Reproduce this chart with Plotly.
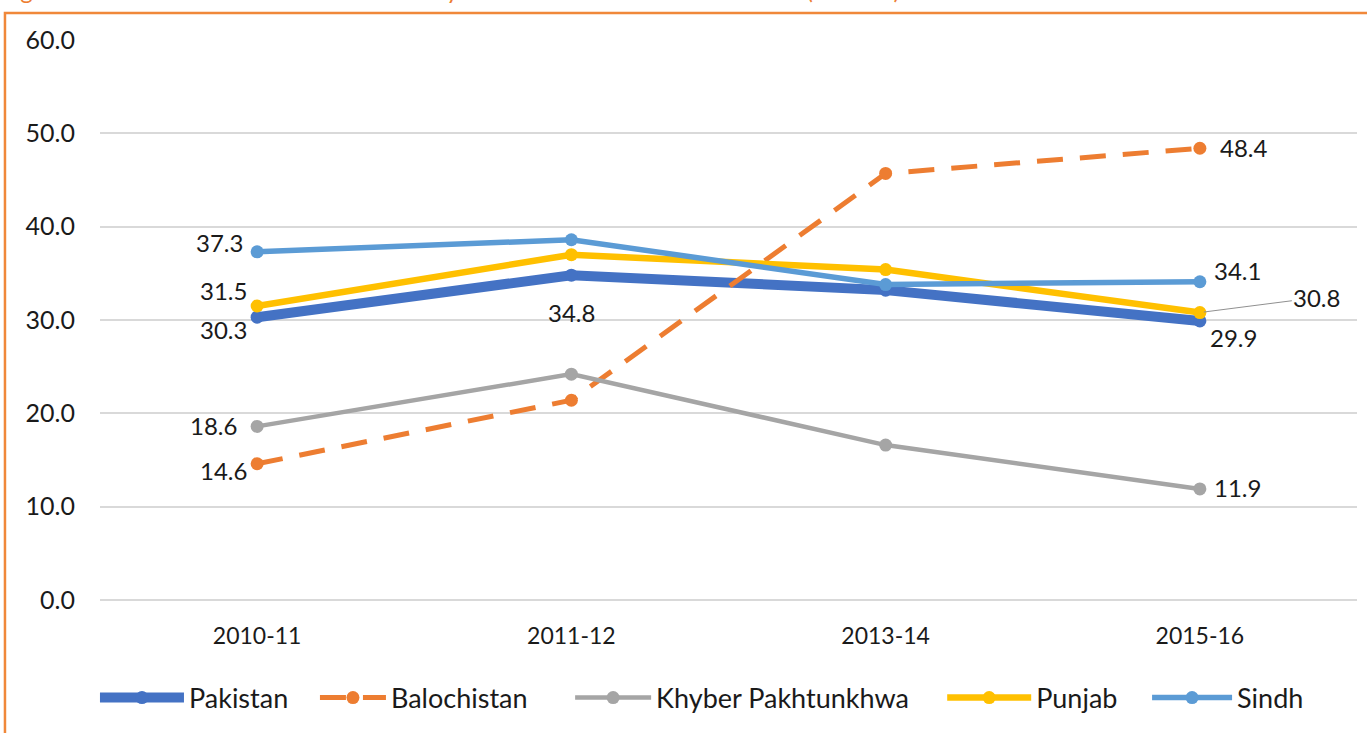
import plotly.graph_objects as go

years = ["2010-11", "2011-12", "2013-14", "2015-16"]
pakistan = [30.3, 34.8, 33.2, 29.9]
balochistan = [14.6, 21.4, 45.7, 48.4]
kp = [18.6, 24.2, 16.6, 11.9]
punjab = [31.5, 37.0, 35.4, 30.8]
sindh = [37.3, 38.6, 33.8, 34.1]
y_ticks = [0, 10, 20, 30, 40, 50, 60]

# name, values, colour, line width, dash, legend x (paper), legend symbol width
series = [
    ("Pakistan", pakistan, "#4472C4", 10, "solid", -0.004, 84),
    ("Balochistan", balochistan, "#ED7D31", 5, "26px,17px", 0.171, 66),
    ("Khyber Pakhtunkhwa", kp, "#A5A5A5", 4.5, "solid", 0.374, 76),
    ("Punjab", punjab, "#FFC000", 6.5, "solid", 0.670, 84),
    ("Sindh", sindh, "#5B9BD5", 5.5, "solid", 0.833, 80),
]

FONT = "Lato, Open Sans, sans-serif"
fig = go.Figure()
legend_layouts = {}
for k, (name, vals, color, w, dash, lx, iw) in enumerate(series):
    lname = "legend" if k == 0 else f"legend{k + 1}"
    fig.add_trace(go.Scatter(
        x=years, y=vals, name=name, mode="lines+markers",
        line=dict(color=color, width=w, dash=dash),
        marker=dict(size=13, color=color), legend=lname,
    ))
    legend_layouts[lname] = dict(orientation="h", x=lx, xanchor="left", y=-0.175,
                                 yanchor="middle", font=dict(family=FONT, size=27),
                                 itemwidth=iw, bgcolor="rgba(0,0,0,0)")

LBL = 24
# data labels: (series values, index, xshift, yshift, xanchor)
label_specs = [
    (pakistan, 0, -8, -12, "right"),
    (pakistan, 1, 0, -37, "center"),
    (pakistan, 3, 8, -17, "left"),
    (balochistan, 0, -8, -7, "right"),
    (balochistan, 3, 18, 1, "left"),
    (kp, 0, -18, 1, "right"),
    (kp, 3, 12, 1, "left"),
    (punjab, 0, -8, 16, "right"),
    (sindh, 0, -12, 9, "right"),
    (sindh, 3, 12, 11, "left"),
]
for vals, i, xs, ys, xa in label_specs:
    fig.add_annotation(x=years[i], y=vals[i], text=f"{vals[i]:.1f}",
                       showarrow=False, xshift=xs, yshift=ys, xanchor=xa,
                       font=dict(family=FONT, size=LBL, color="#1a1a1a"))
# Punjab last label with leader line
fig.add_annotation(x=years[3], y=punjab[3], text=f"{punjab[3]:.1f}",
                   showarrow=True, arrowhead=0, arrowwidth=1, arrowcolor="#909090",
                   ax=117, ay=-15, xanchor="center", standoff=4,
                   font=dict(family=FONT, size=LBL, color="#1a1a1a"))

# cut-off caption at very top and orange frame
fig.add_annotation(xref="paper", yref="paper", x=-0.08, y=1.061, xanchor="left", yanchor="bottom",
                   text="Figure 3: Trend in Multidimensional Poverty across the Provinces of Pakistan (Percent)",
                   showarrow=False, font=dict(family=FONT, size=24, color="#ED7D31"))
fig.add_shape(type="rect", xref="paper", yref="paper", x0=-0.0756, x1=1.05, y0=-0.3, y1=1.048,
              line=dict(color="#F0883A", width=2.5), fillcolor="rgba(0,0,0,0)", layer="below")

fig.update_layout(
    width=1367, height=733,
    margin=dict(l=100, r=10, t=40, b=133, autoexpand=False),
    paper_bgcolor="white", plot_bgcolor="white",
    font=dict(family=FONT, size=24, color="#1a1a1a"),
    showlegend=True,
    xaxis=dict(type="category", range=[-0.5, 3.5], showgrid=False, showline=False,
               ticks="", ticklabelstandoff=20, tickfont=dict(size=23)),
    yaxis=dict(range=[0, 60], tickvals=y_ticks, tickformat=".1f", showgrid=True,
               gridcolor="#D9D9D9", gridwidth=1.5, zeroline=True, zerolinecolor="#D9D9D9",
               zerolinewidth=1.5, showline=False, ticks="", ticklabelstandoff=24,
               tickfont=dict(size=25)),
    **legend_layouts,
)
fig.write_html("out.html", config={"displayModeBar": False},
               post_script="document.body.style.margin='0px';document.body.style.overflow='hidden';")
